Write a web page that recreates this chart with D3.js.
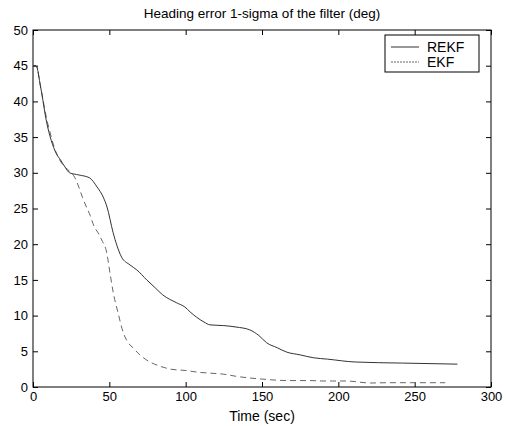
<!DOCTYPE html>
<html lang="en">
<head>
    <meta charset="UTF-8">
    <title>heading-error</title>
    <script src="https://cdn.jsdelivr.net/npm/d3@7/dist/d3.min.js"></script>
    <style>
        body { margin: 0; background: #fff; }
        svg text { font-family: "Liberation Sans", Arial, sans-serif; }
    </style>
</head>
<body>
    <svg class="chart"></svg>
</body>
<script>
    // data
    var rekfTime = [0, 2, 5, 9, 12, 15, 18, 21, 24, 30, 37, 42, 46, 48.5, 52.5, 55, 58, 63.5, 68, 74.5, 80, 85, 94, 99.5, 103, 107, 112, 116, 125, 133, 142, 148, 153, 160, 166, 175, 183.6, 193, 211, 242, 278];
    var rekf = [45, 45, 42, 37, 34.5, 32.8, 31.8, 30.8, 30, 29.7, 29.3, 28, 26.6, 25.2, 21.6, 19.8, 18.2, 17.1, 16.4, 15, 13.9, 12.9, 11.8, 11.2, 10.5, 9.8, 9.1, 8.7, 8.6, 8.4, 8, 7.2, 6.2, 5.5, 4.9, 4.5, 4.1, 3.9, 3.5, 3.35, 3.2];

    var ekfTime = [0, 2, 5, 9, 12, 14, 17, 20, 24, 27.5, 30, 32.5, 35, 37.5, 40, 42.6, 45, 48.3, 50.4, 52.5, 55.7, 59, 62, 65.5, 70, 76.6, 82, 86.4, 90, 100.6, 107, 114.6, 124.6, 133, 142, 150.6, 160, 166, 181, 190, 196, 205, 221, 232, 245, 270];
    var ekf = [45, 45, 42, 37.5, 35, 33.5, 32, 31, 30.2, 29.3, 28, 26.5, 25.2, 24, 22.5, 21.6, 20.6, 18.8, 16, 13.3, 10.4, 7.7, 6.3, 5.5, 4.5, 3.5, 3.0, 2.7, 2.5, 2.3, 2.1, 1.96, 1.8, 1.5, 1.26, 1.1, 0.95, 0.9, 0.9, 0.84, 0.84, 0.84, 0.56, 0.6, 0.6, 0.6];

    var xTicks = [0, 50, 100, 150, 200, 250, 300];
    var yTicks = [0, 5, 10, 15, 20, 25, 30, 35, 40, 45, 50];
    var seriesNames = ['REKF', 'EKF'];

    var width = 508, height = 426;
    var margin = {top: 30, right: 17, bottom: 39, left: 33};
    var w = width - margin.left - margin.right;
    var h = height - margin.top - margin.bottom;

    var svg = d3.select('.chart')
        .attr('width', width)
        .attr('height', height);

    var g = svg.append('g')
        .attr('transform', 'translate(' + margin.left + ',' + margin.top + ')');

    var x = d3.scaleLinear().domain([0, 300]).range([0, w]);
    var y = d3.scaleLinear().domain([0, 50]).range([h, 0]);

    // box
    g.append('rect')
        .attr('width', w)
        .attr('height', h)
        .attr('fill', 'none')
        .attr('stroke', '#000')
        .attr('stroke-width', 1);

    // axes, ticks pointing inside like matlab
    function styleAxis(sel) {
        sel.select('.domain').remove();
        sel.selectAll('line').attr('stroke', '#000');
        sel.selectAll('text').attr('fill', '#000').style('font-size', '13px');
    }

    g.append('g')
        .attr('transform', 'translate(0,' + h + ')')
        .call(d3.axisBottom(x).tickValues(xTicks).tickSize(-5).tickPadding(5))
        .call(styleAxis);

    g.append('g')
        .call(d3.axisTop(x).tickValues(xTicks).tickSize(-5).tickFormat(''))
        .call(styleAxis);

    g.append('g')
        .call(d3.axisLeft(y).tickValues(yTicks).tickSize(-5).tickPadding(5))
        .call(styleAxis);

    g.append('g')
        .attr('transform', 'translate(' + w + ',0)')
        .call(d3.axisRight(y).tickValues(yTicks).tickSize(-5).tickFormat(''))
        .call(styleAxis);

    // lines
    var line = d3.line()
        .x(function (d) { return x(d[0]); })
        .y(function (d) { return y(d[1]); })
        .curve(d3.curveMonotoneX);

    g.append('path')
        .datum(d3.zip(ekfTime, ekf))
        .attr('d', line)
        .attr('fill', 'none')
        .attr('stroke', '#666')
        .attr('stroke-width', 1)
        .attr('stroke-dasharray', '6,4');

    g.append('path')
        .datum(d3.zip(rekfTime, rekf))
        .attr('d', line)
        .attr('fill', 'none')
        .attr('stroke', '#333')
        .attr('stroke-width', 1);

    // legend
    var legend = svg.append('g').attr('transform', 'translate(385,35)');
    legend.append('rect')
        .attr('width', 94)
        .attr('height', 37)
        .attr('fill', '#fff')
        .attr('stroke', '#000');

    var rows = legend.selectAll('.row')
        .data(seriesNames)
        .enter()
        .append('g')
        .attr('class', 'row')
        .attr('transform', function (d, i) {
            return 'translate(0,' + (12 + i * 15) + ')';
        });

    rows.append('line')
        .attr('x1', 6)
        .attr('x2', 34)
        .attr('stroke', function (d, i) { return i ? '#666' : '#333'; })
        .attr('stroke-dasharray', function (d, i) { return i ? '2,1' : null; });

    rows.append('text')
        .attr('x', 42)
        .attr('dy', '.36em')
        .style('font-size', '14px')
        .text(function (d) { return d; });

    // title and axis label
    svg.append('text')
        .attr('x', margin.left + w / 2)
        .attr('y', 18)
        .attr('text-anchor', 'middle')
        .style('font-size', '13.5px')
        .text('Heading error 1-sigma of the filter (deg)');

    svg.append('text')
        .attr('x', margin.left + w / 2)
        .attr('y', 421)
        .attr('text-anchor', 'middle')
        .style('font-size', '14px')
        .text('Time (sec)');
</script>
</html>
